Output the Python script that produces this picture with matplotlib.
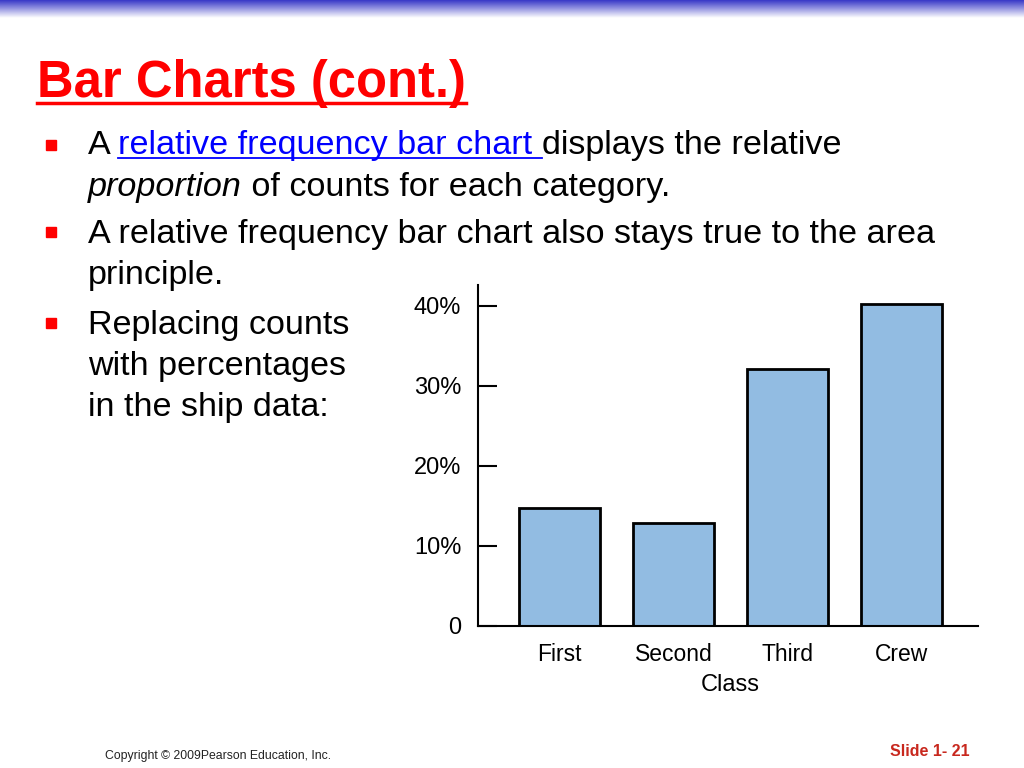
import numpy as np
import matplotlib
matplotlib.use('Agg')
import matplotlib.pyplot as plt
from matplotlib.patches import Rectangle
from matplotlib.lines import Line2D

# Datos del grafico (porcentajes de cada clase del barco)
classes = ['First', 'Second', 'Third', 'Crew']
percents = [14.8, 12.9, 32.1, 40.2]
yticks = [0, 10, 20, 30, 40]
ytick_labels = ['0', '10%', '20%', '30%', '40%']

W, H = 1024, 768
body = ['Liberation Sans', 'DejaVu Sans']
narrow = ['Liberation Sans Narrow', 'Liberation Sans', 'DejaVu Sans']


def px(x):
    return x / W


def py(y):
    return 1 - y / H


fig = plt.figure(figsize=(W / 100, H / 100), dpi=100)
fig.patch.set_facecolor('white')

# Banda azul degradada arriba
band = fig.add_axes([0, py(18), 1, 18 / H])
grad = np.linspace(0, 1, 50)[:, None]
top = np.array([0.22, 0.22, 0.78])
cols = top[None, :] * (1 - grad) + np.ones(3)[None, :] * grad
band.imshow(cols[:, None, :].repeat(2, axis=1), aspect='auto', extent=[0, 1, 0, 1])
band.axis('off')

renderer = fig.canvas.get_renderer()


def write(x, y, s, **kw):
    t = fig.text(px(x), py(y), s, va='baseline', ha='left', **kw)
    bb = t.get_window_extent(renderer)
    return t, bb


# Titulo
t, bb = write(37, 97, 'Bar Charts (cont.)', fontsize=36.5, fontweight='bold',
              color='#ff0000', family=body)
fig.add_artist(Line2D([bb.x0 / W, bb.x1 / W], [py(103), py(103)], color='#ff0000',
                      lw=2.5, transform=fig.transFigure))

fs = 24.6


def bullet(y):
    fig.add_artist(Rectangle((px(46), py(y + 5)), 10 / W, 10 / H, color='#ff0000',
                             transform=fig.transFigure))


def run(x, y, parts):
    for s, kw in parts:
        t, bb = write(x, y, s, fontsize=fs, family=body, **kw)
        if kw.get('color') == '#0000ff':
            fig.add_artist(Line2D([bb.x0 / W, bb.x1 / W], [py(y + 4), py(y + 4)],
                                  color='#0000ff', lw=1.3, transform=fig.transFigure))
        x = bb.x1


bullet(145)
run(88, 154, [('A ', {'color': 'black'}),
              ('relative frequency bar chart ', {'color': '#0000ff'}),
              ('displays the relative', {'color': 'black'})])
run(88, 196, [('proportion', {'color': 'black', 'style': 'italic'}),
              (' of counts for each category.', {'color': 'black'})])
bullet(232)
run(88, 243, [('A relative frequency bar chart also stays true to the area', {'color': 'black'})])
run(88, 284, [('principle.', {'color': 'black'})])
bullet(323)
run(88, 334, [('Replacing counts', {'color': 'black'})])
run(88, 375, [('with percentages', {'color': 'black'})])
run(88, 416, [('in the ship data:', {'color': 'black'})])

# Grafico de barras
ax = fig.add_axes([px(478), py(626), px(978) - px(478), (626 - 285) / H])
x = np.arange(len(classes))
ax.bar(x, percents, width=0.71, color='#92bce2', edgecolor='black', linewidth=2)
ax.set_xlim(-0.715, 3.67)
ax.set_ylim(0, 42.6)
for s in ['top', 'right']:
    ax.spines[s].set_visible(False)
for s in ['left', 'bottom']:
    ax.spines[s].set_linewidth(1.5)
ax.set_yticks(yticks)
ax.set_yticklabels(ytick_labels, family=narrow, fontsize=17)
ax.tick_params(axis='y', direction='in', length=14, width=1.5, pad=12)
ax.set_xticks(x)
ax.set_xticklabels(classes, family=narrow, fontsize=16.5)
ax.tick_params(axis='x', length=0, pad=12)
ax.set_xlabel('Class', family=narrow, fontsize=17)
ax.xaxis.set_label_coords((730 - 478) / 500, -(674 - 626) / 341, transform=ax.transAxes)

# Pie de pagina
fig.text(px(105), py(756), 'Copyright \u00a9 2009Pearson Education, Inc.', fontsize=8.8,
         family=narrow, va='center', ha='left', color='#222222')
fig.text(px(970), py(751), 'Slide 1- 21', fontsize=11.5, fontweight='bold', family=narrow,
         va='center', ha='right', color='#c8281e')

fig.savefig('out.png', dpi=100)
